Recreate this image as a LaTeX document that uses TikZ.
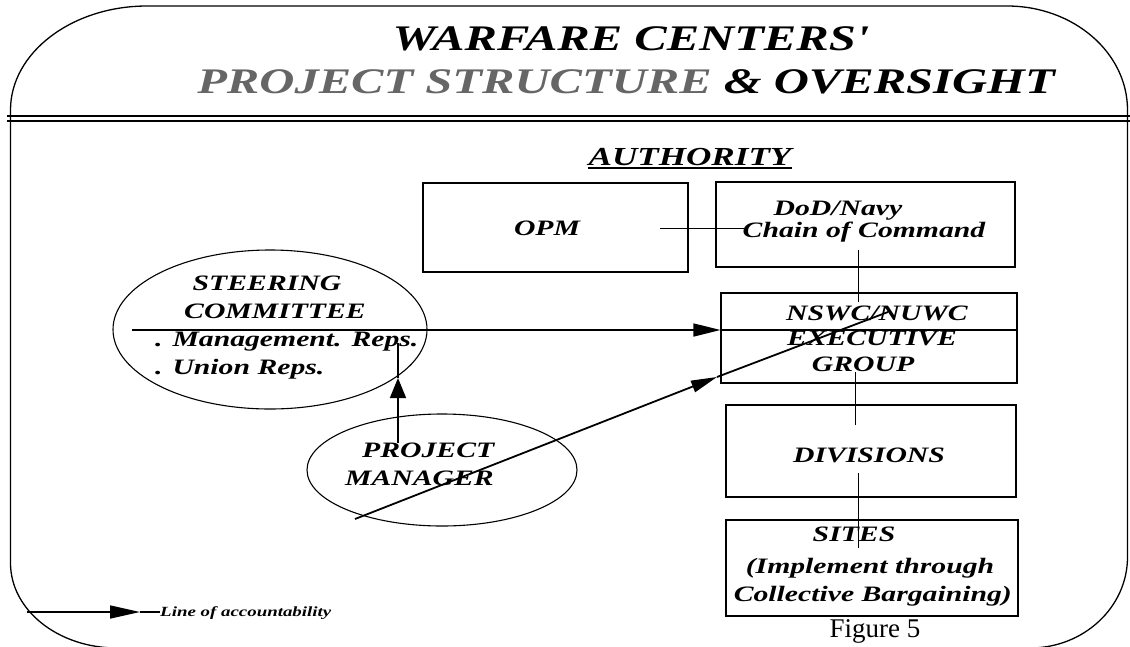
\documentclass[tikz,border=0pt]{standalone}
\usepackage{fontspec}
\setmainfont{Liberation Serif}
\newfontfamily\bk[FakeStretch=1.35]{Liberation Serif}
\usetikzlibrary{arrows.meta,shapes.geometric}
\begin{document}
\begin{tikzpicture}[x=1pt,y=-1pt,
  frame/.style={line width=1.3pt},
  box/.style={draw,line width=1.1pt,inner sep=0pt},
  oval/.style={draw,ellipse,line width=1.1pt,inner sep=0pt},
  title/.style={inner sep=0pt,font=\bk\bfseries\itshape\fontsize{36}{36}\selectfont},
  lbl/.style={inner sep=0pt,font=\bk\bfseries\itshape\fontsize{22}{22}\selectfont},
  small/.style={inner sep=0pt,font=\bk\bfseries\itshape\fontsize{14}{14}\selectfont},
  conn/.style={line width=1pt},
  accline/.style={line width=1.4pt},
  acch/.style={line width=1.4pt,-{Triangle[length=27pt,width=13pt]}},
  accd/.style={line width=1.8pt,-{Triangle[length=26pt,width=12pt]}},
  accv/.style={line width=1.6pt,-{Triangle[length=20pt,width=16pt]}},
  accl/.style={line width=1.6pt,-{Triangle[length=30pt,width=13pt]}}
]
\useasboundingbox (0,0) rectangle (1130,646);
\clip (0,0) rectangle (1130,646);
% outer frame
\draw[frame] (147,6) -- (1007,6) .. controls (1073.5,6) and (1127.5,52.6) .. (1127.5,110)
  -- (1127.5,557) .. controls (1127.5,607) and (1084,648) .. (1030,648)
  -- (117,648) .. controls (58,648) and (10.5,610) .. (10.5,563)
  -- (10.5,110) .. controls (10.5,52.6) and (72,6) .. (147,6) -- cycle;
% header rule
\draw[line width=2pt] (7,116) -- (1130,116);
\draw[line width=1.2pt] (7,121) -- (1130,121);
% titles
\node[title,anchor=base] (t1) at (631,50) {WARFARE CENTERS'};
\node[title,anchor=base] (t2) at (626,93) {\textcolor{black!60}{PROJECT STRUCTURE} \& OVERSIGHT};
\node[inner sep=0pt,anchor=base,font=\bk\bfseries\itshape\fontsize{26}{26}\selectfont] (auth) at (690,165) {AUTHORITY};
\draw[line width=1.6pt] ([yshift=-3pt]auth.base west) -- ([yshift=-3pt]auth.base east);
% boxes
\node[box,minimum width=265pt,minimum height=89pt] (opm) at (555.5,227.5) {};
\node[box,minimum width=299pt,minimum height=85pt] (dod) at (865.5,224.5) {};
\node[box,minimum width=296pt,minimum height=90pt] (nswc) at (869,338) {};
\node[box,minimum width=290pt,minimum height=92pt] (div) at (871,451) {};
\node[box,minimum width=292pt,minimum height=96pt] (sites) at (872,568) {};
% ellipses
\node[oval,minimum width=314pt,minimum height=159pt] (steer) at (270,329.5) {};
\node[oval,minimum width=270pt,minimum height=112pt] (pm) at (442,470) {};
% box texts
\node[lbl,anchor=base] (opmt) at (547,235) {OPM};
\node[lbl,anchor=base] (dodt1) at (838,215) {DoD/Navy};
\node[lbl,anchor=base] (dodt2) at (864,237) {Chain of Command};
\node[lbl,anchor=base] (nst1) at (877,320) {NSWC/NUWC};
\node[lbl,anchor=base] (nst2) at (872,345) {EXECUTIVE};
\node[lbl,anchor=base] (nst3) at (863,371) {GROUP};
\node[lbl,anchor=base] (divt) at (869,462) {DIVISIONS};
\node[lbl,anchor=base] (sit1) at (854,541) {SITES};
\node[lbl,anchor=base] (sit2) at (870,573) {(Implement through};
\node[lbl,anchor=base east] (sit3) at (1012,601) {Collective Bargaining)};
\node[lbl,anchor=base] (st1) at (267,290) {STEERING};
\node[lbl,anchor=base] (st2) at (275,318) {COMMITTEE};
\node[lbl,anchor=base west] (st3) at (155,346) {. Management. Reps.};
\node[lbl,anchor=base west] (st4) at (155,374) {. Union Reps.};
\node[lbl,anchor=base west] (pm1) at (362,457) {PROJECT};
\node[lbl,anchor=base west] (pm2) at (345,485) {MANAGER};
\node[inner sep=0pt,anchor=base,font=\fontsize{27}{27}\selectfont] (fig) at (875,637) {Figure 5};
% thin authority connectors
\coordinate (c1a) at (660,228);
\coordinate (c1b) at (744,228);
\draw[conn] (c1a) -- (c1b);
\coordinate (c2a) at (858,250);
\coordinate (c2b) at (858,302);
\draw[conn] (c2a) -- (c2b);
\coordinate (c3a) at (855,372);
\coordinate (c3b) at (855,425);
\draw[conn] (c3a) -- (c3b);
\coordinate (c4a) at (858,473);
\coordinate (c4b) at (858,548);
\draw[conn] (c4a) -- (c4b);
% lines of accountability
\coordinate (h0) at (132,330);
\draw[acch] (h0) -- (nswc.west |- h0);
\draw[accline] (nswc.west |- h0) -- (nswc.east |- h0);
\coordinate (d0) at (355,519);
\coordinate (d1) at (717,377);
\coordinate (d2) at (888,312);
\draw[accd] (d0) -- (d1);
\draw[line width=1.8pt] (d1) -- (d2);
\coordinate (v0) at (398,443);
\coordinate (v1) at (398,378);
\coordinate (v2) at (398,343);
\draw[accv] (v0) -- (v1);
\draw[line width=1.6pt] (v1) -- (v2);
% legend
\coordinate (l0) at (27,612);
\coordinate (l1) at (140,612);
\coordinate (l2) at (160,612);
\draw[accl] (l0) -- (l1);
\draw[line width=1.6pt] (l1) -- (l2);
\node[small,anchor=base west] (legt) at (160,616) {Line of accountability};
\end{tikzpicture}
\end{document}
